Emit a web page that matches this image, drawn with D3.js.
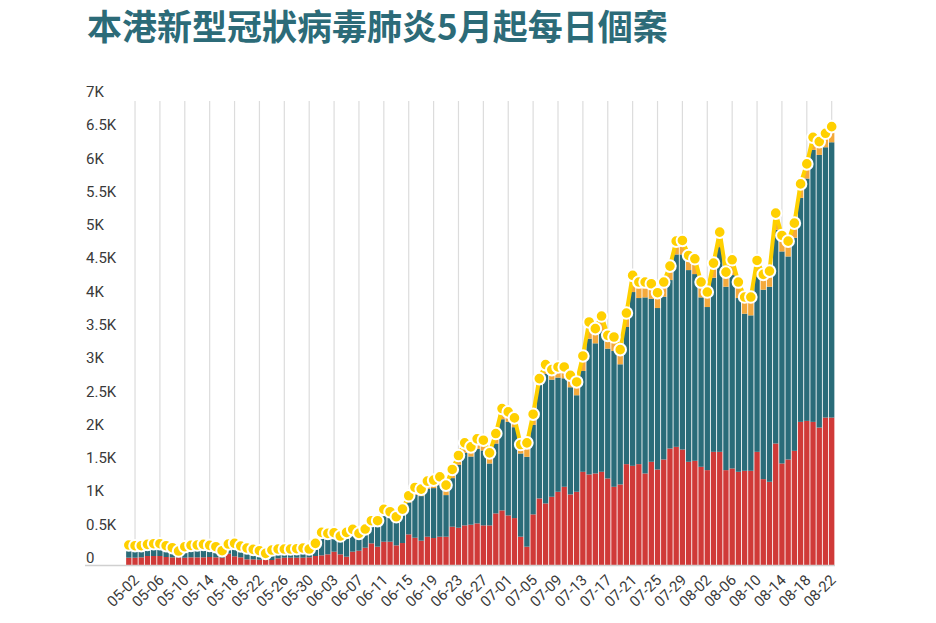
<!DOCTYPE html>
<html>
<head>
<meta charset="utf-8">
<script src="https://cdn.jsdelivr.net/npm/d3@7"></script>
<style>
  body { margin: 0; background: #fff; }
  svg { display: block; }
  .title { font-family: "Noto Sans CJK TC", "Noto Sans CJK SC", sans-serif; font-weight: 700; }
  .tick-y, .tick-x { font-family: Roboto, "Noto Sans", sans-serif; fill: #3a3a3a; }
</style>
</head>
<body>
<script>
// daily figures from 05-01 to 08-22
var mayTotal = [300,290,290,310,320,320,290,260,210,275,295,300,310,295,275,215,315,325,285,255,235,215,175,225,240,240,240,245,255,240,325];
var junTotal = [490,475,485,435,490,535,475,540,665,665,835,800,725,840,1040,1165,1140,1260,1275,1325,1200,1435,1645,1835,1775,1895,1875,1685,1975,2350];
var julTotal = [2300,2210,1810,1835,2265,2800,3010,2935,2975,2975,2850,2750,3140,3650,3550,3740,3450,3425,3235,3785,4350,4250,4250,4225,4090,4250,4490,4865,4875,4650,4600];
var augTotal = [4250,4100,4535,5000,4400,4585,4250,4025,4025,4575,4365,4415,5285,4950,4865,5135,5725,6025,6425,6360,6485,6585];

var mayRed = [110,110,115,135,135,135,120,115,115,110,115,115,115,120,115,110,170,130,115,85,85,80,75,75,100,110,110,110,110,115,135];
var junRed = [145,160,200,160,125,200,215,260,325,275,350,350,295,330,460,410,365,425,405,425,425,575,560,595,605,625,595,595,775,820];
var julRed = [745,705,425,275,760,1000,925,1025,1100,1175,1060,1100,1400,1360,1375,1400,1300,1175,1210,1515,1490,1515,1375,1550,1435,1585,1750,1775,1735,1550,1565];
var augRed = [1475,1425,1700,1700,1425,1450,1400,1415,1415,1700,1290,1250,1825,1525,1585,1715,2150,2165,2150,2065,2215,2215];

var mayOrange = [30,25,30,35,30,35,30,25,20,30,35,30,35,30,25,20,30,35,30,25,25,20,20,25,30,25,30,30,35,30,40];
var junOrange = [55,50,60,55,60,65,60,70,75,80,90,85,80,90,100,110,105,115,120,125,150,130,140,150,145,150,155,160,150,160];
var julOrange = [150,140,135,210,160,85,140,150,160,170,180,200,225,250,220,230,200,210,220,210,250,240,230,225,230,220,210,200,210,220,230];
var augOrange = [230,225,220,225,220,230,240,250,275,240,230,235,250,240,230,220,210,220,190,200,210,235];

var monthDays = [["05", 31], ["06", 30], ["07", 31], ["08", 22]];
var yTicks = [0,500,1000,1500,2000,2500,3000,3500,4000,4500,5000,5500,6000,6500,7000];
var titleText = "本港新型冠狀病毒肺炎5月起每日個案";

var dates = [];
monthDays.forEach(function(m) {
  for (var d = 1; d <= m[1]; d++) dates.push(m[0] + "-" + (d < 10 ? "0" + d : "" + d));
});
var total = mayTotal.concat(junTotal, julTotal, augTotal);
var red = mayRed.concat(junRed, julRed, augRed);
var orange = mayOrange.concat(junOrange, julOrange, augOrange);

var data = dates.map(function(d, i) {
  return { date: d, red: red[i], teal: total[i] - red[i] - orange[i], orange: orange[i], total: total[i] };
});

var width = 936, height = 623;
var svg = d3.select("body").append("svg").attr("width", width).attr("height", height);

svg.append("text").attr("class", "title")
  .attr("x", 87).attr("y", 40)
  .attr("font-size", 35).attr("fill", "#2c6b78")
  .text(titleText);

var x = d3.scaleBand().domain(dates).range([125.7, 834.8]).paddingInner(0.14).paddingOuter(0.07);
var y = d3.scaleLinear().domain([0, 7000]).range([565, 99]);

// vertical grid lines every 4 days
var tickDates = dates.filter(function(d, i) { return i % 4 === 1; });
svg.append("g").selectAll("line").data(tickDates).enter().append("line")
  .attr("x1", function(d) { return x(d) + x.bandwidth() / 2; })
  .attr("x2", function(d) { return x(d) + x.bandwidth() / 2; })
  .attr("y1", 101).attr("y2", 565)
  .attr("stroke", "#dcdcdc").attr("stroke-width", 1.2);

// stacked bars
var stack = d3.stack().keys(["red", "teal", "orange"])(data);
var colors = { red: "#d03a38", teal: "#2a6c79", orange: "#f4a93c" };
svg.append("g").selectAll("g").data(stack).enter().append("g")
  .attr("fill", function(s) { return colors[s.key]; })
  .selectAll("rect").data(function(s) { return s; }).enter().append("rect")
  .attr("x", function(d) { return x(d.data.date); })
  .attr("width", x.bandwidth())
  .attr("y", function(d) { return y(d[1]); })
  .attr("height", function(d) { return y(d[0]) - y(d[1]); });

// baseline
svg.append("line").attr("x1", 85).attr("x2", 835).attr("y1", 565.5).attr("y2", 565.5)
  .attr("stroke", "#d0d0d0").attr("stroke-width", 1.5);

// y labels sit just above their value
svg.append("g").selectAll("text").data(yTicks).enter().append("text")
  .attr("class", "tick-y")
  .attr("x", 86).attr("y", function(d) { return y(d) - 2; })
  .attr("font-size", 15)
  .text(function(d) { return d === 0 ? "0" : (d / 1000) + "K"; });

// x labels, rotated
svg.append("g").selectAll("text").data(tickDates).enter().append("text")
  .attr("class", "tick-x")
  .attr("font-size", 15)
  .attr("text-anchor", "end")
  .attr("transform", function(d) {
    return "translate(" + (x(d) + x.bandwidth() / 2 + 5) + ",581) rotate(-45)";
  })
  .text(function(d) { return d; });

// total line and dots
var line = d3.line()
  .x(function(d) { return x(d.date) + x.bandwidth() / 2; })
  .y(function(d) { return y(d.total); });

svg.append("path").datum(data).attr("d", line)
  .attr("fill", "none").attr("stroke", "#ffd000").attr("stroke-width", 4).attr("stroke-linejoin", "round");

svg.append("g").selectAll("circle").data(data).enter().append("circle")
  .attr("cx", function(d) { return x(d.date) + x.bandwidth() / 2; })
  .attr("cy", function(d) { return y(d.total); })
  .attr("r", 5.8)
  .attr("fill", "#ffd000").attr("stroke", "#fff").attr("stroke-width", 2);
</script>
</body>
</html>
